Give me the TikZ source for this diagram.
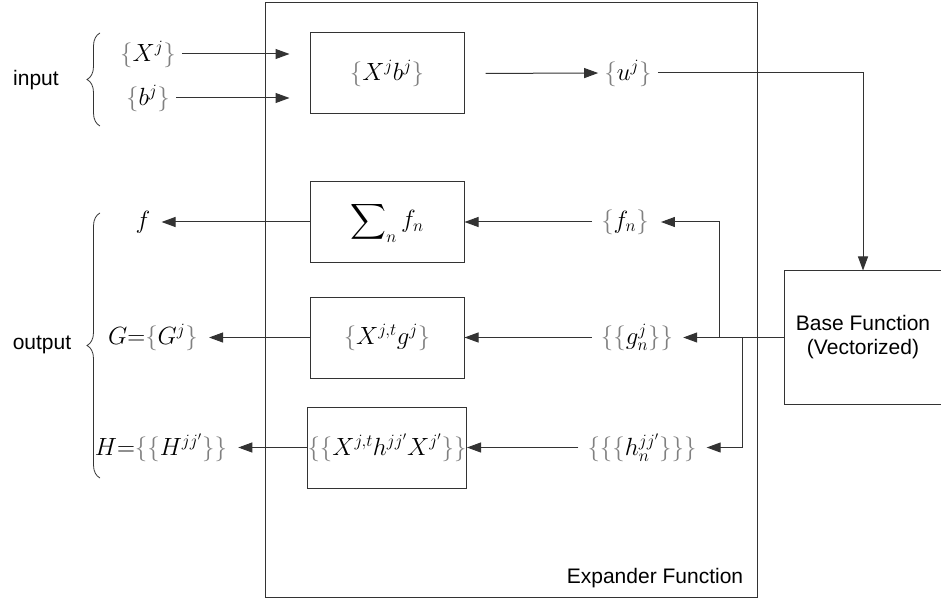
\documentclass[tikz,border=0pt]{standalone}
\usepackage{exscale}
\usepackage{fontspec}
\setmainfont{Liberation Sans}
\usetikzlibrary{arrows.meta,decorations.pathreplacing}
\newcommand{\obr}{\textcolor{gray}{\{}}
\newcommand{\cbr}{\textcolor{gray}{\}}}
\begin{document}
\begin{tikzpicture}[x=1pt,y=-1pt,
        box/.style={draw=black!80, line width=1pt, rectangle, minimum width=154pt, minimum height=81pt, inner sep=0pt, font=\fontsize{25}{30}\selectfont},
        term/.style={inner sep=0pt, font=\fontsize{25}{30}\selectfont},
        lbl/.style={inner sep=0pt, font=\fontsize{21}{24}\selectfont},
        arr/.style={-{Triangle[length=14pt,width=10pt]}, line width=1pt, draw=black!80},
        curly/.style={draw=black!80, line width=0.8pt, decorate, decoration={brace, amplitude=13pt}}]
        \useasboundingbox (0,0) rectangle (941,601);
        % expander frame
        \node[draw=black!80, line width=1pt, minimum width=492pt, minimum height=594pt] (expander) at (511,300) {};
        \node[lbl] (explbl) at (655,578) {Expander Function};
        
        % input side
        \node[lbl] (input) at (36,80) {input};
        \coordinate (inlo) at (100,126);
        \coordinate (inhi) at (100,33);
        \draw[curly] (inlo) -- (inhi);
        \node[term] (xj) at (148,54) {$\obr X^j\cbr$};
        \node[term] (bj) at (148,98) {$\obr b^j\cbr$};
        \node[box] (xb) at (387,73.5) {$\obr X^j b^j\cbr$};
        \node[term] (uj) at (628,73) {$\obr u^j\cbr$};
        
        \draw[arr, shorten <=6pt, shorten >=20pt] (xj.east) -- (xj -| xb.west);
        \draw[arr, shorten <=6pt, shorten >=20pt] (bj.east) -- (bj -| xb.west);
        \draw[arr, shorten <=21pt, shorten >=6pt] (xb.east) -- (uj.west);
        
        % base function
        \node[box, minimum width=158pt, minimum height=133pt, align=center, font=\fontsize{21}{24}\selectfont] (base) at (863,337.5) {Base Function\\(Vectorized)};
        \draw[arr, shorten <=6pt] (uj.east) -| (base.north);
        
        % output side
        \node[box] (sum) at (387,222) {$\displaystyle\sum\nolimits_n f_n$};
        \node[box] (gbox) at (387,337.5) {$\obr X^{j,t} g^j\cbr$};
        \node[box] (hbox) at (387,447.5) {$\obr\obr X^{j,t} h^{jj'} X^{j'}\cbr\cbr$};
        
        \node[term] (fn) at (625,222) {$\obr f_n\cbr$};
        \node[term] (gn) at (637,337.5) {$\obr\obr g_n^j\cbr\cbr$};
        \node[term] (hn) at (642,447.5) {$\obr\obr\obr h_n^{jj'}\cbr\cbr\cbr$};
        
        \node[term] (fout) at (143,222) {$f$};
        \node[term] (gout) at (153,337.5) {$G{=}\obr G^j\cbr$};
        \node[term] (hout) at (161,447.5) {$H{=}\obr\obr H^{jj'}\cbr\cbr$};
        
        \node[lbl] (output) at (42,345) {output};
        \coordinate (outlo) at (100,478);
        \coordinate (outhi) at (100,213);
        \draw[curly] (outlo) -- (outhi);
        
        % fan-out from base function
        \coordinate (sf) at (719,337.5);
        \coordinate (sh) at (742,337.5);
        \draw[arr, shorten >=10pt] (base.west) -- (gn.east);
        \draw[arr, shorten >=12pt] (sf) |- (fn.east);
        \draw[arr, shorten >=10pt] (sh) |- (hn.east);
        
        \draw[arr, shorten <=9pt] (fn.west) -- (sum.east);
        \draw[arr, shorten <=9pt] (gn.west) -- (gbox.east);
        \draw[arr, shorten <=9pt] (hn.west) -- (hbox.east);
        
        \draw[arr, shorten >=11pt] (sum.west) -- (fout.east);
        \draw[arr, shorten >=11pt] (gbox.west) -- (gout.east);
        \draw[arr, shorten >=11pt] (hbox.west) -- (hout.east);
    \end{tikzpicture}
\end{document}
